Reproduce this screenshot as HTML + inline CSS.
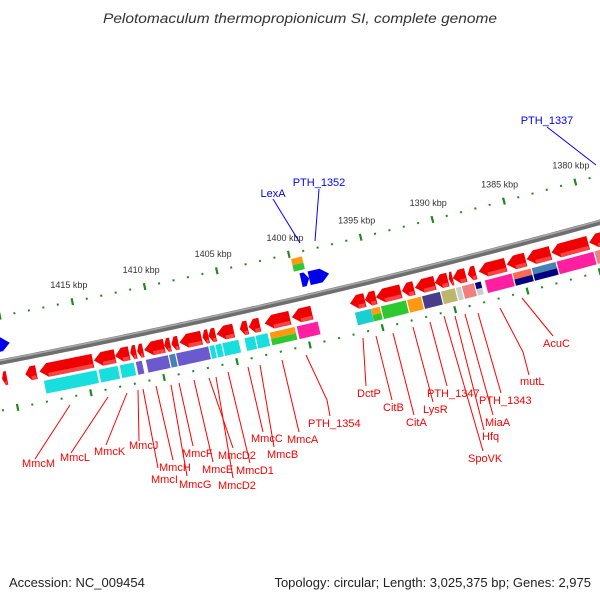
<!DOCTYPE html>
<html><head><meta charset="utf-8"><style>
html,body{margin:0;padding:0;background:#fff}
svg{display:block}
text{font-family:"Liberation Sans",sans-serif}
</style></head><body>
<svg id="map" width="600" height="600" viewBox="0 0 600 600" xmlns="http://www.w3.org/2000/svg">
<text x="103" y="23" textLength="394" lengthAdjust="spacingAndGlyphs" font-size="13.5" font-style="italic" fill="#333">Pelotomaculum thermopropionicum SI, complete genome</text>
<text x="9" y="587" font-size="13" fill="#222">Accession: NC_009454</text>
<text x="591" y="587" text-anchor="end" font-size="13" fill="#222">Topology: circular; Length: 3,025,375 bp; Genes: 2,975</text>
<g id="rings"></g><g id="backbone"></g><g id="feats"></g><g id="labels"></g>
</svg>
<script>
// ---- data (kbp) ----
const tickMajorKbp = [1375,1380,1385,1390,1395,1400,1405,1410,1415,1420,1425];
const tickLabelKbp = [1380,1385,1390,1395,1400,1405,1410,1415];
const revGeneStart = [1420.66,1419.07,1418.10,1414.37,1412.92,1411.88,1411.40,1410.92,1409.54,1409.05,1408.50,1406.91,1406.50,1405.94,1404.35,1403.73,1402.63,1400.76,1396.75,1395.72,1394.96,1393.16,1392.26,1390.88,1389.91,1389.64,1388.60,1387.84,1385.90,1384.52,1382.79,1380.17];
const revGeneEnd   = [1420.32,1418.31,1414.44,1412.92,1411.95,1411.47,1410.99,1409.54,1409.12,1408.57,1406.98,1406.50,1406.01,1404.77,1403.80,1402.97,1400.90,1399.38,1395.72,1394.96,1393.23,1392.33,1390.88,1389.98,1389.64,1388.74,1388.05,1385.97,1384.59,1382.86,1380.24,1377.82];
const fwdGeneStart = [1421.35,1399.59,1399.03];
const fwdGeneEnd   = [1419.69,1399.03,1397.65];
const revCogStart = [1417.97,1414.23,1412.78,1411.68,1410.99,1409.40,1408.91,1406.63,1406.22,1405.74,1404.22,1403.46,1402.49,1402.49,1400.62,1396.61,1395.51,1395.51,1394.82,1393.02,1391.98,1390.67,1389.64,1389.22,1388.32,1388.32,1387.63,1385.70,1385.70,1384.38,1384.38,1382.66,1380.03];
const revCogEnd   = [1414.30,1412.85,1411.75,1411.19,1409.40,1408.91,1406.63,1406.22,1405.74,1404.56,1403.46,1402.56,1400.69,1400.69,1399.10,1395.44,1394.82,1394.82,1393.02,1391.98,1390.67,1389.64,1389.22,1388.32,1387.84,1387.84,1385.70,1384.38,1384.38,1382.66,1382.66,1380.03,1377.82];
const revCogColor = ["#19dede","#19dede","#19dede","#6a5acd","#6a5acd","#4682b4","#6a5acd","#19dede","#19dede","#19dede","#19dede","#19dede","#ff9a10","#30c830","#ff1fa0","#19cfcf","#ff9a10","#30c830","#30c830","#ff9a10","#483d8b","#bdb76b","#cccccc","#f08080","#000080","#cccccc","#ff1fa0","#ff6a50","#000080","#4682b4","#000080","#ff1fa0","#f08080"];
const revCogLayer = [0,0,0,0,0,0,0,0,0,0,0,0,1,2,0,0,1,2,0,0,0,0,0,0,1,2,0,1,2,1,2,0,0];
const fwdCogStart = [1399.93,1399.93];
const fwdCogEnd   = [1399.17,1399.17];
const fwdCogColor = ["#ff9a10","#30c830"];
const fwdCogLayer = [1,2];

// ---- geometry ----
const CX=-1544, CY=-7613, R=8123;
function ang(k){return (76.886+(k-1400)*0.1048)*Math.PI/180;}
function pt(k,d){const a=ang(k),r=R+d;return [CX+r*Math.cos(a),CY+r*Math.sin(a)];}
const NS="http://www.w3.org/2000/svg";
function mk(tag,attrs,parent){const e=document.createElementNS(NS,tag);for(const k in attrs)e.setAttribute(k,attrs[k]);parent.appendChild(e);return e;}
function arcPts(k1,k2,d,n){const a=[];for(let i=0;i<=n;i++){a.push(pt(k1+(k2-k1)*i/n,d));}return a;}
function band(k1,k2,d1,d2){const n=Math.max(2,Math.ceil(Math.abs(k1-k2)*4));return arcPts(k1,k2,d1,n).concat(arcPts(k2,k1,d2,n));}
function arrow(kFrom,kTip,d1,d2){
  const len=Math.abs(kTip-kFrom),dir=Math.sign(kTip-kFrom);const h=Math.min(0.55,len*0.5);
  const kb=kTip-dir*h;const n=Math.max(2,Math.ceil(Math.abs(kb-kFrom)*4));
  let p=arcPts(kFrom,kb,d1,n);p.push(pt(kTip,(d1+d2)/2));p=p.concat(arcPts(kb,kFrom,d2,n));return p;}
function poly(p){return p.map(q=>q[0].toFixed(2)+","+q[1].toFixed(2)).join(" ");}

const rings=document.getElementById('rings');
[-45,48].forEach(function(d,ri){
  for(let k=1372;k<=1425;k++){
    const major=tickMajorKbp.indexOf(k)>=0;
    const h=major?3.5:1;
    const a=pt(k,d-h),b=pt(k,d+h);
    const ln=mk('line',{x1:a[0],y1:a[1],x2:b[0],y2:b[1],stroke:'#1e8a1e','stroke-width':major?2.2:2},rings);
    
    
  }
});
tickLabelKbp.forEach(function(k){
  const p=pt(k,-62);
  const t=mk('text',{x:p[0].toFixed(1),y:(p[1]+3).toFixed(1),'text-anchor':'middle','font-size':'9',fill:'#333'},rings);
  t.textContent=k+' kbp';
  
  
});

const bb=document.getElementById('backbone');
const b1=mk('polyline',{points:poly(arcPts(1424,1374,0.3,120)),fill:'none',stroke:'#6e6e6e','stroke-width':5.5},bb);


const b2=mk('polyline',{points:poly(arcPts(1424,1374,-1.2,120)),fill:'none',stroke:'#a8a8a8','stroke-width':1.6},bb);



const fg=document.getElementById('feats');
function drawShape(p,color,name){
  const e=mk('polygon',{points:poly(p),fill:color},fg);
  
  
}
revGeneStart.forEach(function(s,i){
  const e=revGeneEnd[i];
  drawShape(arrow(e,s,10,24),'#f00000','reverse-gene');
  const hl=mk('polygon',{points:poly(band(Math.min(s,e)+0.05,Math.max(s,e)-Math.min(0.55,Math.abs(s-e)*0.5),20,24)),fill:'#ff6060',opacity:0.7},fg);
  
  
});
fwdGeneStart.forEach(function(s,i){
  drawShape(arrow(s,fwdGeneEnd[i],-24,-10),'#0000ee','forward-gene');
});
function dRange(layer,sign){
  if(layer===0)return sign>0?[27,40]:[-40,-27];
  if(layer===1)return sign>0?[27,33.5]:[-40,-33.5];
  return sign>0?[33.5,40]:[-33.5,-27];
}
revCogStart.forEach(function(s,i){
  const d=dRange(revCogLayer[i],1);
  drawShape(band(s-0.04,revCogEnd[i]+0.04,d[0],d[1]),revCogColor[i],'reverse-cog-bar');
});
fwdCogStart.forEach(function(s,i){
  const d=dRange(fwdCogLayer[i],-1);
  drawShape(band(s,fwdCogEnd[i],d[0],d[1]),fwdCogColor[i],'forward-cog-bar');
});

const lab=document.getElementById('labels');
const labels=[
 ["MmcM",22,463,[[70,405],[35,459]]],["MmcL",60,457,[[108,397],[71,453]]],["MmcK",94,451,[[127,393],[106,445]]],
 ["MmcJ",129,445,[[138,390],[139,441]]],["MmcI",151,479,[[143,389],[158,468]]],["MmcH",159,467,[[156,386],[173,460]]],
 ["MmcG",179,484,[[171,385],[187,476]]],["MmcF",182,453,[[179,383],[193,446]]],["MmcE",202,469,[[194,380],[213,462]]],
 ["MmcD2",218,455,[[209,378],[233,448]]],["MmcD1",236,470,[[228,372],[250,463]]],["MmcD2",218,485,[[216,377],[233,478]]],
 ["MmcC",251,438,[[248,367],[263,432]]],["MmcB",267,454,[[260,365],[274,447]]],["MmcA",287,439,[[282,360],[299,432]]],
 ["PTH_1354",308,423,[[306,355],[327,400],[330,416]]],
 ["DctP",357,393,[[363,338],[366,386]]],["CitB",383,407,[[376,336],[392,400]]],["CitA",406,422,[[393,333],[414,415]]],
 ["LysR",423,409,[[413,327],[433,402]]],["PTH_1347",427,393,[[430,322],[447,386]]],["SpoVK",468,458,[[444,316],[483,451]]],
 ["Hfq",482,436,[[455,316],[484,430]]],["MiaA",485,422,[[465,314],[493,415]]],["PTH_1343",479,400,[[478,313],[501,393]]],
 ["mutL",520,381,[[500,308],[523,352],[529,375]]],["AcuC",543,343,[[522,298],[553,336]]]
];
labels.forEach(function(L){
  const pl=mk('polyline',{points:L[3].map(q=>q.join(',')).join(' '),fill:'none',stroke:'#f00','stroke-width':1},lab);
  
  
  const t=mk('text',{x:L[1],y:L[2]+4,'font-size':'11',fill:'#f00'},lab);
  t.textContent=L[0];
  
  
});
const blabels=[["LexA",273,193,[[273,199],[300,243]]],["PTH_1352",319,182,[[319,189],[315,241]]],["PTH_1337",547,120,[[547,127],[596,165]]]];
blabels.forEach(function(L){
  const pl=mk('polyline',{points:L[3].map(q=>q.join(',')).join(' '),fill:'none',stroke:'#00f','stroke-width':1},lab);
  
  
  const t=mk('text',{x:L[1],y:L[2]+4,'font-size':'11',fill:'#00f','text-anchor':'middle'},lab);
  t.textContent=L[0];
  
  
});
</script>
</body></html>
